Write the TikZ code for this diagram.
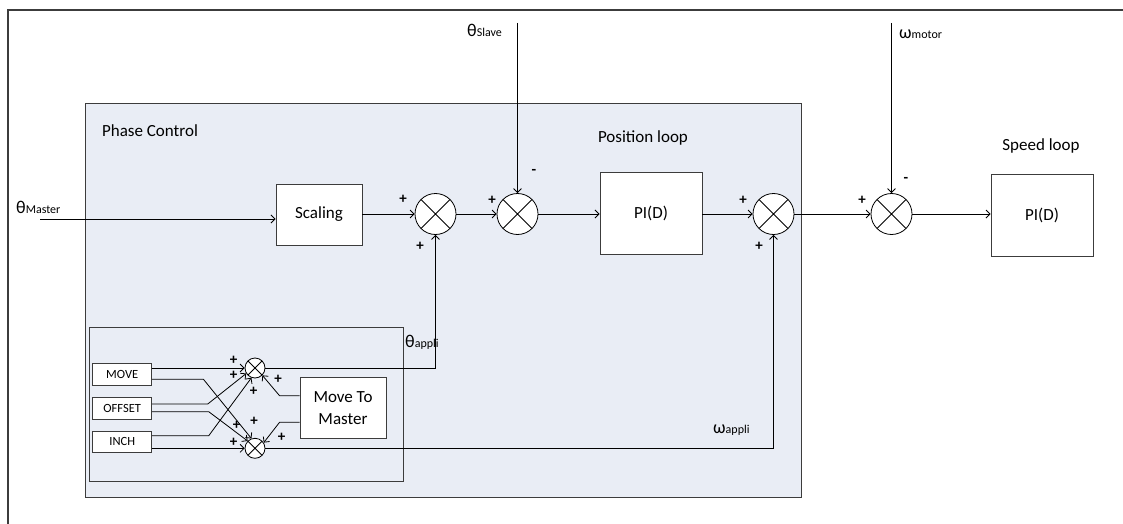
\documentclass[tikz,border=0pt]{standalone}
\usepackage{fontspec}
\setmainfont{Carlito}
\usetikzlibrary{arrows.meta}
\definecolor{panel}{RGB}{233,237,245}
\definecolor{edge}{RGB}{60,60,60}
\newcommand\sigtxt[2]{{\fontsize{18}{18}\selectfont #1}{\fontsize{12}{12}\selectfont #2}}
\begin{document}
\begin{tikzpicture}[x=1pt,y=-1pt,
  line/.style={draw=black, line width=0.8pt},
  arr/.style={line, -{Straight Barb[length=4pt,width=8pt]}},
  blk/.style={draw=edge, line width=0.9pt, fill=white, inner sep=0pt, font=\fontsize{17}{21.7}\selectfont},
  smallblk/.style={blk, minimum width=59pt, minimum height=21.7pt, font=\fontsize{12.5}{14}\selectfont},
  sumnode/.style={circle, draw=black, line width=0.8pt, fill=white, minimum size=41pt, inner sep=0pt,
    path picture={\draw[line width=0.8pt] (path picture bounding box.north west) -- (path picture bounding box.south east)
      (path picture bounding box.north east) -- (path picture bounding box.south west);}},
  ssum/.style={sumnode, minimum size=20pt},
  sign/.style={font=\fontsize{15}{15}\bfseries\selectfont, inner sep=0pt},
  title/.style={font=\fontsize{17}{20}\selectfont, inner sep=0pt},
  sig/.style={inner sep=0pt, anchor=west}
]
\useasboundingbox (0,0) rectangle (1123,524);
% outer frame
\draw[draw=edge, line width=1.3pt] (8,530) -- (8,10) -- (1130,10);
% panels
\node[draw=edge, line width=1.1pt, fill=panel, minimum width=716pt, minimum height=394pt, inner sep=0pt, anchor=north west] (phase) at (85,103) {};
\node[draw=edge, line width=0.9pt, minimum width=314.2pt, minimum height=154.5pt, inner sep=0pt, anchor=north west] (inner) at (88.5,326.5) {};
% titles
\node[title] (pc) at (150,130.4) {Phase Control};
\node[title] (pl) at (643,137.5) {Position loop};
\node[title] (sl) at (1041,145.5) {Speed loop};
% blocks
\node[blk, minimum width=86pt, minimum height=61pt] (scal) at (319,214.5) {Scaling};
\node[blk, minimum width=102pt, minimum height=82pt] (pi1) at (651,213) {PI(D)};
\node[blk, minimum width=102pt, minimum height=82pt] (pi2) at (1042,215) {PI(D)};
\node[sumnode] (s1) at (435.5,214) {};
\node[sumnode] (s2) at (517.5,214) {};
\node[sumnode] (s3) at (773.5,214) {};
\node[sumnode] (s4) at (891.5,214) {};
% small blocks
\node[smallblk] (mv) at (122.2,374.2) {MOVE};
\node[smallblk] (of) at (122.2,408.2) {OFFSET};
\node[smallblk] (in) at (122.2,441.9) {INCH};
\node[blk, minimum width=86pt, minimum height=61pt, align=center] (mtm) at (343,407.8) {Move To\\Master};
\node[ssum] (sa) at (255,368) {};
\node[ssum] (sb) at (255,448.3) {};
% signal labels
\node[sig] (lm) at (16,207) {\sigtxt{θ}{Master}};
\node[sig] (ls) at (467,30) {\sigtxt{θ}{Slave}};
\node[sig] (lmo) at (899,34) {\sigtxt{ω}{motor}};
\node[sig] (la) at (405,342) {\sigtxt{θ}{appli}};
\node[sig] (lw) at (713,430) {\sigtxt{ω}{appli}};
% free ends
\coordinate (mstart) at (40,219);
\coordinate (slv) at (517.5,23);
\coordinate (mot) at (891.5,23);
% main connectors
\draw[arr] (mstart) -- (mstart -| scal.west);
\draw[arr] (scal.east |- s1) -- (s1.west);
\draw[arr] (s1.east) -- (s2.west);
\draw[arr] (slv) -- (s2.north);
\draw[arr] (s2.east) -- (pi1.west |- s2);
\draw[arr] (pi1.east |- s3) -- (s3.west);
\draw[arr] (s3.east) -- (s4.west);
\draw[arr] (mot) -- (s4.north);
\draw[arr] (s4.east) -- (pi2.west |- s4);
\draw[arr] (sa.east) -| (s1.south);
\draw[arr] (sb.east) -| (s3.south);
% small connectors
\draw[arr] (mv.east |- sa) -- (sa.west);
\draw[arr] (mv.east) ++(0,5.1) -- ++(51.3,0) -- (sb.110);
\draw[arr] (of.east) ++(0,-4.2) -- ++(55.6,0) -- (sa.212);
\draw[arr] (of.east) ++(0,3.5) -- ++(56.6,0) -- (sb.135);
\draw[arr] (in.east) ++(0,-6.2) -- ++(56.6,0) -- (sa.250);
\draw[arr] (in.east |- sb) -- (sb.west);
\draw[arr] (mtm.west) ++(0,-12.1) -- ++(-20,0) -- (sa.-45);
\draw[arr] (mtm.west) ++(0,14.5) -- ++(-20,0) -- (sb.33);
% signs
\node[sign] at (403,199) {+};
\node[sign] at (420,246) {+};
\node[sign] at (492,200) {+};
\node[sign] at (534,172) {-};
\node[sign] at (743,200) {+};
\node[sign] at (759,246) {+};
\node[sign] at (862,200) {+};
\node[sign] at (906,180) {-};
\node[sign] at (233.5,360) {+};
\node[sign] at (233.5,375) {+};
\node[sign] at (253.7,391) {+};
\node[sign] at (278,379) {+};
\node[sign] at (254,421) {+};
\node[sign] at (236.7,425.5) {+};
\node[sign] at (233.5,442) {+};
\node[sign] at (281.7,437.5) {+};
\end{tikzpicture}
\end{document}
